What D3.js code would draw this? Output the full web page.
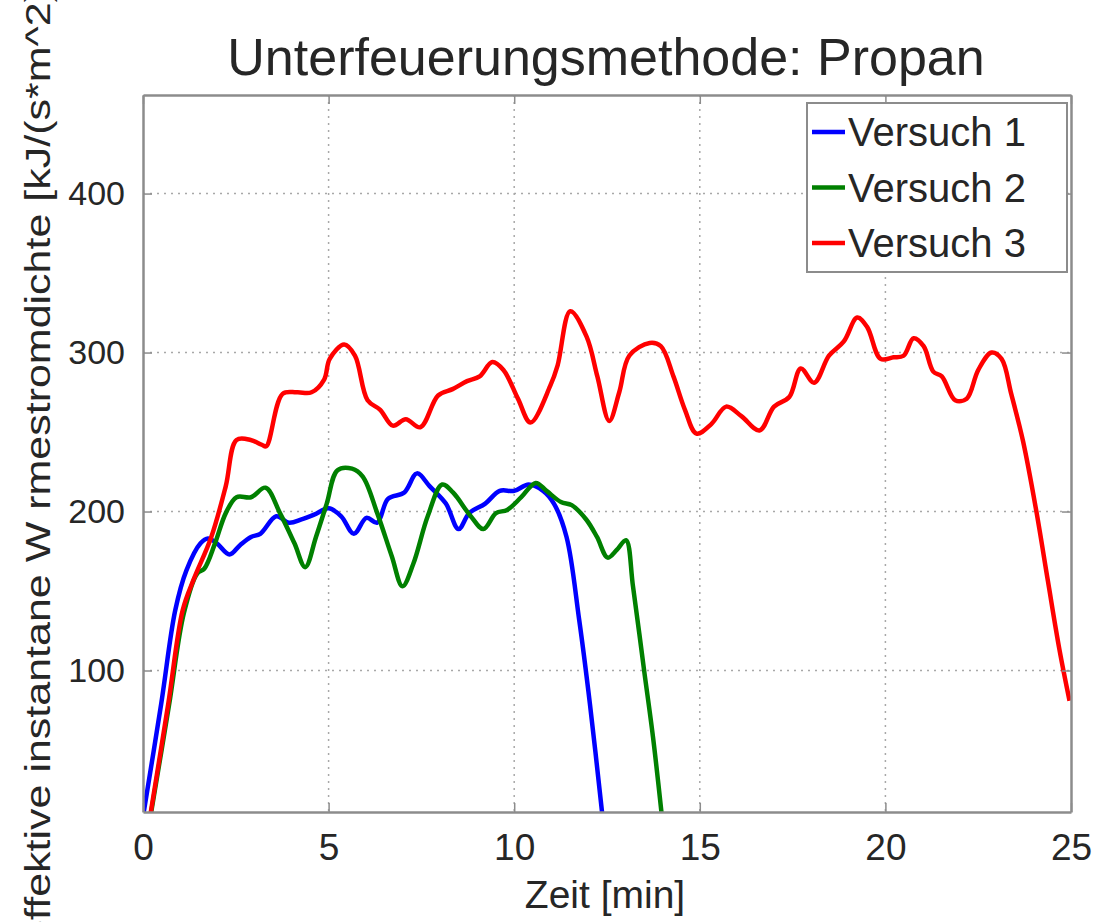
<!DOCTYPE html>
<html>
<head>
<meta charset="utf-8">
<script src="https://cdn.jsdelivr.net/npm/d3@7"></script>
<style>
  body { margin: 0; background: #fff; }
  text { font-family: "Liberation Sans", Arial, sans-serif; fill: #262626; }
</style>
</head>
<body>
<div class="chart"></div>
<script>
// Data (time in min, heat flux in kJ/(s*m^2))
var seriesNames = ["Versuch 1", "Versuch 2", "Versuch 3"];

var time1 = [0, 0.49, 0.87, 1.17, 1.55, 1.75, 1.99, 2.33, 2.62, 2.91, 3.16, 3.59, 3.93, 4.27, 4.61, 5.0,
  5.34, 5.68, 6.02, 6.31, 6.6, 7.04, 7.38, 7.72, 8.16, 8.5, 8.79, 9.22, 9.61, 10.0, 10.39, 10.78,
  11.07, 11.41, 11.75, 12.04, 12.38];
var flux1 = [8, 79, 138, 163, 180, 183, 180, 173, 179, 184, 186, 197, 193, 195, 198, 202,
  197, 186, 196, 193, 208, 212, 224, 216, 205, 189, 199, 205, 213, 213, 217, 213,
  205, 184, 132, 79, 8];

var time2 = [0.2, 0.7, 1.1, 1.46, 1.65, 1.94, 2.23, 2.52, 2.91, 3.3, 3.69, 4.08, 4.37, 4.66, 4.95, 5.24,
  5.63, 5.92, 6.31, 6.7, 6.99, 7.28, 7.67, 8.06, 8.35, 8.83, 9.17, 9.51, 9.81, 10.19, 10.58,
  10.87, 11.26, 11.55, 11.94, 12.23, 12.52, 12.77, 13.01, 13.2, 13.5, 13.74, 13.98];
var flux2 = [8, 78, 136, 161, 164, 180, 199, 209, 209, 215, 199, 180, 165, 184, 205, 226,
  227, 222, 199, 172, 153, 167, 197, 217, 212, 197, 189, 199, 201, 209, 218,
  213, 206, 204, 195, 184, 171, 176, 182, 153, 100, 58, 8];

var time3 = [0.19, 0.68, 1.07, 1.36, 1.84, 2.23, 2.52, 2.9, 3.2, 3.32, 3.76, 4.15, 4.54, 4.88, 5.03, 5.42,
  5.71, 6.05, 6.39, 6.73, 7.08, 7.47, 7.95, 8.34, 8.73, 9.07, 9.41, 9.71, 10.1, 10.44, 10.97,
  11.17, 11.51, 11.95, 12.24, 12.56, 12.83, 13.1, 13.65, 13.95, 14.29, 14.6, 14.91, 15.31, 15.71,
  16.12, 16.61, 17.0, 17.41, 17.72, 18.08, 18.48, 18.88, 19.24, 19.51, 19.87, 20.22, 20.49, 20.76,
  21.03, 21.29, 21.52, 21.88, 22.19, 22.5, 22.86, 23.13, 23.39, 23.71, 24.06, 24.38, 24.69, 24.96];
var flux3 = [8, 79, 138, 157, 184, 216, 245, 245, 242, 241, 274, 275, 275, 283, 296, 305,
  298, 270, 264, 254, 258, 253, 273, 277, 282, 285, 294, 289, 271, 256, 279,
  292, 326, 310, 285, 257, 275, 298, 306, 304, 285, 264, 249, 255, 266,
  260, 251, 266, 272, 290, 281, 298, 307, 322, 316, 296, 297, 298, 309,
  304, 288, 285, 270, 271, 289, 300, 296, 274, 244, 201, 156, 113, 81];

var xTicks = [0, 5, 10, 15, 20, 25];
var yTicks = [100, 200, 300, 400];

// Set up chart
var svgWidth = 1099;
var svgHeight = 922;
var plot = { left: 143, right: 1071, top: 95, bottom: 812 };
var colors = ["#0000ff", "#008000", "#ff0000"];

var svg = d3.select(".chart")
  .append("svg")
  .attr("width", svgWidth)
  .attr("height", svgHeight);

var x = d3.scaleLinear().domain([0, 25]).range([plot.left, plot.right]);
var y = d3.scaleLinear().domain([11, 462]).range([plot.bottom, plot.top]);

// grid lines
var grid = svg.append("g");
grid.selectAll(".gx")
  .data(xTicks.slice(1, -1))
  .enter()
  .append("line")
  .attr("x1", d => x(d)).attr("x2", d => x(d))
  .attr("y1", plot.top).attr("y2", plot.bottom)
  .attr("stroke", "#a8a8a8").attr("stroke-width", 1.5)
  .attr("stroke-dasharray", "2,5");
grid.selectAll(".gy")
  .data(yTicks)
  .enter()
  .append("line")
  .attr("x1", plot.left).attr("x2", plot.right)
  .attr("y1", d => y(d)).attr("y2", d => y(d))
  .attr("stroke", "#a8a8a8").attr("stroke-width", 1.5)
  .attr("stroke-dasharray", "2,5");

// lines
svg.append("clipPath").attr("id", "clip")
  .append("rect")
  .attr("x", plot.left).attr("y", plot.top)
  .attr("width", plot.right - plot.left).attr("height", plot.bottom - plot.top);

var line = d3.line()
  .x(d => x(d[0]))
  .y(d => y(d[1]))
  .curve(d3.curveCatmullRom.alpha(0.5));

var allSeries = [d3.zip(time1, flux1), d3.zip(time2, flux2), d3.zip(time3, flux3)];

svg.append("g")
  .attr("clip-path", "url(#clip)")
  .selectAll("path")
  .data(allSeries)
  .enter()
  .append("path")
  .attr("d", line)
  .attr("fill", "none")
  .attr("stroke", (d, i) => colors[i])
  .attr("stroke-width", 4.5)
  .attr("stroke-linejoin", "round");

// axes (MATLAB style, ticks pointing inward)
var bottomAxis = d3.axisBottom(x).tickValues(xTicks).tickSize(-9).tickSizeOuter(0).tickPadding(22);
var leftAxis = d3.axisLeft(y).tickValues(yTicks).tickSize(-9).tickSizeOuter(0).tickPadding(18);
var topAxis = d3.axisTop(x).tickValues(xTicks).tickSize(-9).tickSizeOuter(0).tickFormat("");
var rightAxis = d3.axisRight(y).tickValues(yTicks).tickSize(-9).tickSizeOuter(0).tickFormat("");

function styleAxis(g) {
  g.select(".domain").attr("stroke", "#8c8c8c").attr("stroke-width", 2.5);
  g.selectAll(".tick line").attr("stroke", "#8c8c8c").attr("stroke-width", 1.5);
  g.selectAll(".tick text")
    .attr("fill", "#262626")
    .style("font-family", "'Liberation Sans', Arial, sans-serif");
}

svg.append("g").attr("transform", `translate(0, ${plot.bottom})`)
  .call(bottomAxis).call(styleAxis)
  .selectAll(".tick text").style("font-size", "37px");
svg.append("g").attr("transform", `translate(${plot.left}, 0)`)
  .call(leftAxis).call(styleAxis)
  .selectAll(".tick text").style("font-size", "34px");
svg.append("g").attr("transform", `translate(0, ${plot.top})`)
  .call(topAxis).call(styleAxis);
svg.append("g").attr("transform", `translate(${plot.right}, 0)`)
  .call(rightAxis).call(styleAxis);

// title and axis labels
svg.append("text")
  .attr("x", 606).attr("y", 75)
  .attr("text-anchor", "middle")
  .style("font-size", "52px")
  .text("Unterfeuerungsmethode: Propan");

svg.append("text")
  .attr("x", 605).attr("y", 908)
  .attr("text-anchor", "middle")
  .style("font-size", "39px")
  .text("Zeit [min]");

// the reference cuts this label at both ends of the figure
svg.append("text")
  .attr("transform", "translate(50, 460) scale(0.8, 1) rotate(-90)")
  .attr("text-anchor", "middle")
  .style("font-size", "43px")
  .text("effektive instantane W rmestromdichte [kJ/(s*m^2)]");

// legend
var legend = svg.append("g");
legend.append("rect")
  .attr("x", 807).attr("y", 103)
  .attr("width", 260).attr("height", 169)
  .attr("fill", "#fff")
  .attr("stroke", "#8c8c8c").attr("stroke-width", 2);

var rows = legend.selectAll(".row")
  .data(seriesNames)
  .enter()
  .append("g")
  .attr("transform", (d, i) => `translate(0, ${132 + i * 55.5})`);
rows.append("line")
  .attr("x1", 812).attr("x2", 845)
  .attr("y1", 0).attr("y2", 0)
  .attr("stroke", (d, i) => colors[i])
  .attr("stroke-width", 4.5);
rows.append("text")
  .attr("x", 848).attr("y", 14)
  .style("font-size", "40px")
  .text(d => d);
</script>
</body>
</html>
